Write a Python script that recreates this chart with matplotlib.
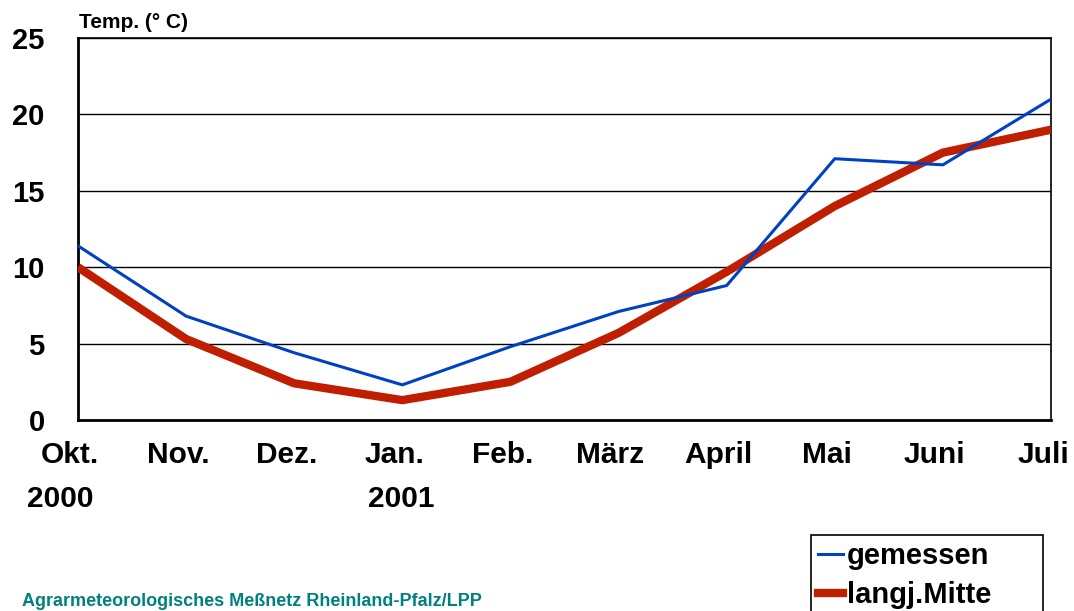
import numpy as np
import matplotlib.pyplot as plt
import matplotlib.transforms as mtransforms
from matplotlib.lines import Line2D
from matplotlib.patches import Rectangle

plt.rcParams['font.family'] = ['Liberation Sans', 'DejaVu Sans']
plt.rcParams['font.weight'] = 'bold'

months = ['Okt.', 'Nov.', 'Dez.', 'Jan.', 'Feb.', 'März', 'April', 'Mai', 'Juni', 'Juli']
years = {0: '2000', 3: '2001'}
year_shift = {0: -18, 3: -1}   # pixels, label offset from month position
gemessen = [11.4, 6.8, 4.4, 2.3, 4.8, 7.1, 8.8, 17.1, 16.7, 21.0]
langj_mitte = [10.0, 5.3, 2.4, 1.3, 2.5, 5.7, 9.7, 14.0, 17.5, 19.0]
yticks = [0, 5, 10, 15, 20, 25]

blue = '#0041C4'
red = '#C01E00'

fig = plt.figure(figsize=(10.74, 6.11), dpi=100)
ax = fig.add_axes([0.0726, 0.3126, 0.906, 0.6252])

x = np.arange(len(months))
ax.plot(x, langj_mitte, color=red, lw=6, solid_capstyle='butt', zorder=3)
ax.plot(x, gemessen, color=blue, lw=2.2, zorder=4)

ax.set_xlim(0, len(months) - 1)
ax.set_ylim(0, 25)
ax.set_yticks(yticks)
ax.set_yticklabels([str(v) for v in yticks], fontsize=21, fontweight='bold')
ax.set_xticks(x)
ax.set_xticklabels(months, fontsize=21.5, fontweight='bold')
ax.tick_params(axis='y', length=0, pad=24)
ax.tick_params(axis='x', length=0, pad=15)
# month labels sit a little left of their points
shift = mtransforms.ScaledTranslation(-8 / 100, 0, fig.dpi_scale_trans)
for lbl in ax.get_xticklabels():
    lbl.set_transform(lbl.get_transform() + shift)

ax.grid(axis='y', color='black', lw=1)
for s in ax.spines.values():
    s.set_color('black')
    s.set_linewidth(1.2)
ax.spines['left'].set_linewidth(2)
ax.spines['bottom'].set_linewidth(2)

for i, yr in years.items():
    ax.annotate(yr, xy=(i, 0), xycoords=('data', 'axes fraction'),
                xytext=(year_shift[i], -79), textcoords='offset pixels',
                ha='center', va='center', fontsize=21.5, fontweight='bold')

fig.text(79 / 1074, 1 - 22 / 611, 'Temp. (° C)', fontsize=15, fontweight='bold',
         ha='left', va='center')

fig.text(22 / 1074, 1 - 606 / 611, 'Agrarmeteorologisches Meßnetz Rheinland-Pfalz/LPP',
         fontsize=13, fontweight='bold', color='#00807F', ha='left', va='baseline')

# legend box runs off the bottom of the figure
box = Rectangle((811 / 1074, -0.05), (1043 - 811) / 1074, 0.05 + 1 - 535 / 611,
                transform=fig.transFigure, fill=False, edgecolor='black', lw=1.2)
fig.add_artist(box)
handles = [Line2D([], [], color=blue, lw=2.2), Line2D([], [], color=red, lw=6)]
leg = fig.legend(handles, ['gemessen', 'langj.Mitte'], loc='upper left',
                 bbox_to_anchor=(815 / 1074, 1 - 539 / 611), frameon=False,
                 handlelength=0.85, handletextpad=0.15, borderpad=0.1,
                 labelspacing=0.39, borderaxespad=0,
                 prop={'size': 21, 'weight': 'bold'})

fig.savefig('out.png', dpi=100)
